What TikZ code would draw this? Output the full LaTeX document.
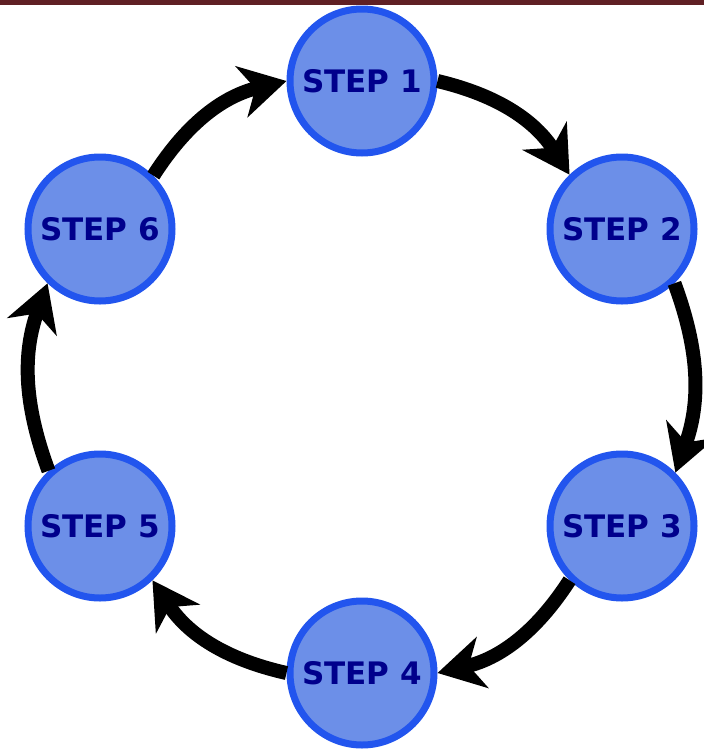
\documentclass[tikz,border=0pt]{standalone}
\usepackage{fontspec}
\setmainfont{DejaVu Sans}
\usetikzlibrary{arrows.meta}

\definecolor{barred}{RGB}{96,32,36}
\definecolor{stepfill}{RGB}{108,143,232}
\definecolor{stepline}{RGB}{34,85,238}
\definecolor{steptext}{RGB}{0,0,140}

\tikzset{
	stepnode/.style={circle, draw=stepline, fill=stepfill, line width=7pt,
		minimum size=144pt, inner sep=0pt, text=steptext,
		font=\bfseries\fontsize{31}{37}\selectfont},
	cyclearrow/.style={line width=14pt, -{Stealth[length=46pt,width=52pt,inset=14pt]}}
}

\begin{document}
\begin{tikzpicture}[x=1pt,y=-1pt]
\useasboundingbox (0,0) rectangle (704,753);
\fill[barred] (0,0) rectangle (704,5);

% the six steps round the ring
\foreach \n/\x/\y in {1/362/81, 2/622/229, 3/622/526, 4/362/673, 5/100/526, 6/100/229} {
	\node[stepnode] (s\n) at (\x,\y) {STEP \n};
}

\draw[cyclearrow] (s1.0) to[bend left=22] (s2.134);
\draw[cyclearrow] (s2.-46) to[bend left=20] (s3.45);
\draw[cyclearrow] (s3.-134) to[bend left=22] (s4.0);
\draw[cyclearrow] (s4.180) to[bend left=22] (s5.-46);
\draw[cyclearrow] (s5.133) to[bend left=20] (s6.-134);
\draw[cyclearrow] (s6.45) to[bend left=22] (s1.180);
\end{tikzpicture}
\end{document}
